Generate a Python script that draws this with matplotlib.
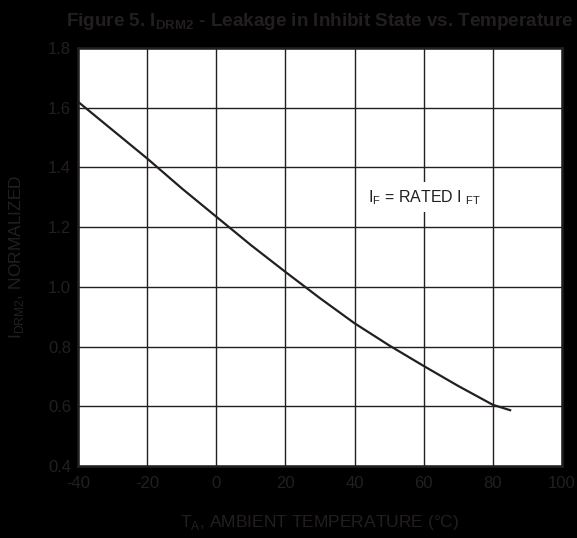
import matplotlib
matplotlib.use("Agg")
import matplotlib.pyplot as plt

plt.rcParams['font.family'] = ['Liberation Sans', 'DejaVu Sans']
plt.rcParams['mathtext.fontset'] = 'custom'
plt.rcParams['mathtext.rm'] = 'Liberation Sans'
plt.rcParams['mathtext.bf'] = 'Liberation Sans:bold'
plt.rcParams['axes.unicode_minus'] = False

# curve
temp_c = [-40, -30, -20, -10, 0, 10, 20, 30, 40, 50, 60, 70, 80, 85]
leakage = [1.62, 1.525, 1.43, 1.33, 1.235, 1.14, 1.05, 0.962, 0.878,
           0.804, 0.735, 0.668, 0.605, 0.587]

x_ticks = [-40, -20, 0, 20, 40, 60, 80, 100]
y_ticks = [0.4, 0.6, 0.8, 1.0, 1.2, 1.4, 1.6, 1.8]

ink = '#231f20'

fig = plt.figure(figsize=(5.77, 5.38), dpi=100)
fig.patch.set_facecolor('black')
ax = fig.add_axes([0.1352, 0.1338, 0.8388, 0.777])
ax.set_facecolor('white')

ax.plot(temp_c, leakage, color=ink, linewidth=1.6)

ax.set_xlim(-40, 100)
ax.set_ylim(0.4, 1.8)
ax.set_xticks(x_ticks)
ax.set_yticks(y_ticks)
ax.set_yticklabels([f"{v:.1f}" for v in y_ticks])
ax.tick_params(length=0, labelsize=12, labelcolor=ink)
ax.tick_params(axis='x', pad=7)
ax.tick_params(axis='y', pad=5)
ax.grid(True, color=ink, linewidth=1.0)
ax.set_axisbelow(True)
for spine in ax.spines.values():
    spine.set_color(ink)
    spine.set_linewidth(1.8)

ax.set_xlabel(r"T$_\mathregular{A}$, AMBIENT TEMPERATURE (°C)",
              fontsize=12.5, color=ink, labelpad=16)
ax.set_ylabel(r"I$_\mathregular{DRM2}$, NORMALIZED",
              fontsize=12.5, color=ink, labelpad=16)

ax.text(60.4, 1.30, r"I$_\mathregular{F}$ = RATED I $_\mathregular{FT}$",
        fontsize=11.5, color=ink, ha='center', va='center',
        bbox=dict(facecolor='white', edgecolor='none', pad=4))

ax.set_title(r"Figure 5. I$_\mathbf{DRM2}$ - Leakage in Inhibit State vs. Temperature",
             fontsize=13.6, fontweight='bold', color=ink, pad=16)

plt.savefig("out.png", dpi=100, facecolor=fig.get_facecolor())
